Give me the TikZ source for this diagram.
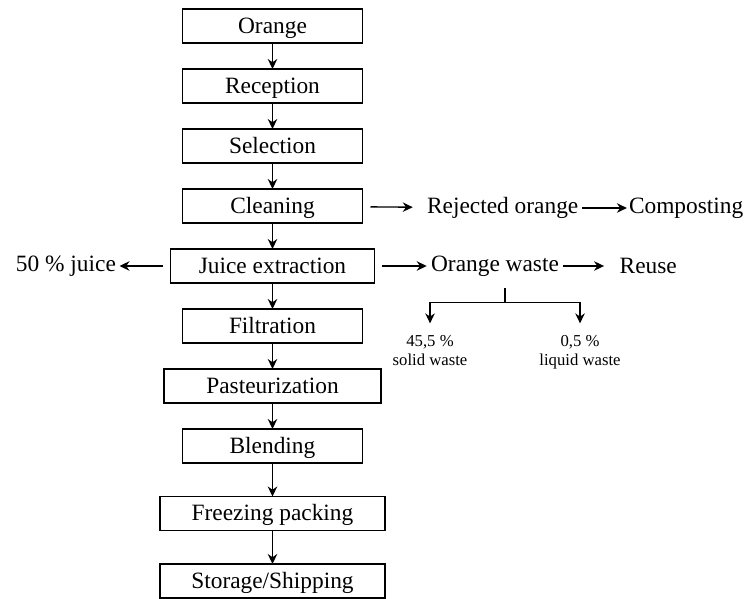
\documentclass[tikz,border=0pt]{standalone}
\usepackage{fontspec}
\setmainfont{Liberation Serif}
\usetikzlibrary{positioning, arrows.meta}

\begin{document}
\begin{tikzpicture}[
        node distance=0.52cm and 1.0cm,
        stepbox/.style={rectangle, draw, line width=1.1pt, outer sep=0pt, minimum width=3.6cm,
            minimum height=0.68cm, inner sep=2pt, text height=2.0ex, text depth=0.2ex,
            font=\fontsize{13.3}{16}\selectfont},
        txt/.style={inner sep=1pt, font=\fontsize{13.3}{16}\selectfont},
        note/.style={inner sep=1pt, align=center, font=\fontsize{9.5}{10.5}\selectfont},
        arrow/.style={-{Stealth[length=0.2cm, width=0.19cm]}, line width=0.75pt}
        ]
        \useasboundingbox (-5.45,0.52) rectangle (9.47,-11.46);

        % main process line
        \node[stepbox] (orange) at (0,0) {Orange};
        \node[stepbox, below=of orange] (recep) {Reception};
        \node[stepbox, below=of recep] (select) {Selection};
        \node[stepbox, below=of select] (clean) {Cleaning};
        \node[stepbox, below=of clean, minimum width=4.08cm] (juice) {Juice extraction};
        \node[stepbox, below=of juice] (filter) {Filtration};
        \node[stepbox, below=of filter, minimum width=4.34cm] (pasteur) {Pasteurization};
        \node[stepbox, below=of pasteur] (blend) {Blending};
        \node[stepbox, below=0.67cm of blend, minimum width=4.5cm] (freeze) {Freezing packing};
        \node[stepbox, below=0.67cm of freeze, minimum width=4.5cm] (store) {Storage/Shipping};

        \draw[arrow] (orange) -- (recep);
        \draw[arrow] (recep) -- (select);
        \draw[arrow] (select) -- (clean);
        \draw[arrow] (clean) -- (juice);
        \draw[arrow] (juice) -- (filter);
        \draw[arrow] (filter) -- (pasteur);
        \draw[arrow] (pasteur) -- (blend);
        \draw[arrow] (blend) -- (freeze);
        \draw[arrow] (freeze) -- (store);

        % side products
        \node[txt, right=1.25cm of clean, yshift=-0.04cm] (reject) {Rejected orange};
        \node[txt, right=0.93cm of reject] (compost) {Composting};
        \node[txt, right=1.09cm of juice] (waste) {Orange waste};
        \node[txt, right=1.13cm of waste] (reuse) {Reuse};
        \node[txt, left=1.05cm of juice] (juice50) {50 \% juice};

        \draw[arrow, shorten <=0.16cm, shorten >=0.245cm] (clean) -- (reject);
        \draw[arrow, shorten <=0.03cm] (reject) -- (compost);
        \draw[arrow, shorten <=0.14cm, shorten >=0.045cm] (juice) -- (waste);
        \draw[arrow, shorten <=0.03cm, shorten >=0.27cm] (waste) -- (reuse);
        \draw[arrow, shorten <=0.14cm, shorten >=0.03cm] (juice) -- (juice50);

        % waste split
        \coordinate[below=0.2cm of waste, xshift=0.2cm] (tick);
        \coordinate[below=0.28cm of tick] (fork);
        \coordinate[left=1.5cm of fork] (forkl);
        \coordinate[right=1.5cm of fork] (forkr);
        \node[note, below=0.62cm of forkl] (solid) {45,5 \%\\solid waste};
        \node[note, below=0.62cm of forkr] (liquid) {0,5 \%\\liquid waste};

        \draw[line width=0.75pt] (tick) -- (fork);
        \draw[line width=0.75pt] (forkl) -- (forkr);
        \draw[arrow, shorten >=0.2cm] (forkl) -- (solid);
        \draw[arrow, shorten >=0.2cm] (forkr) -- (liquid);
    \end{tikzpicture}
\end{document}
